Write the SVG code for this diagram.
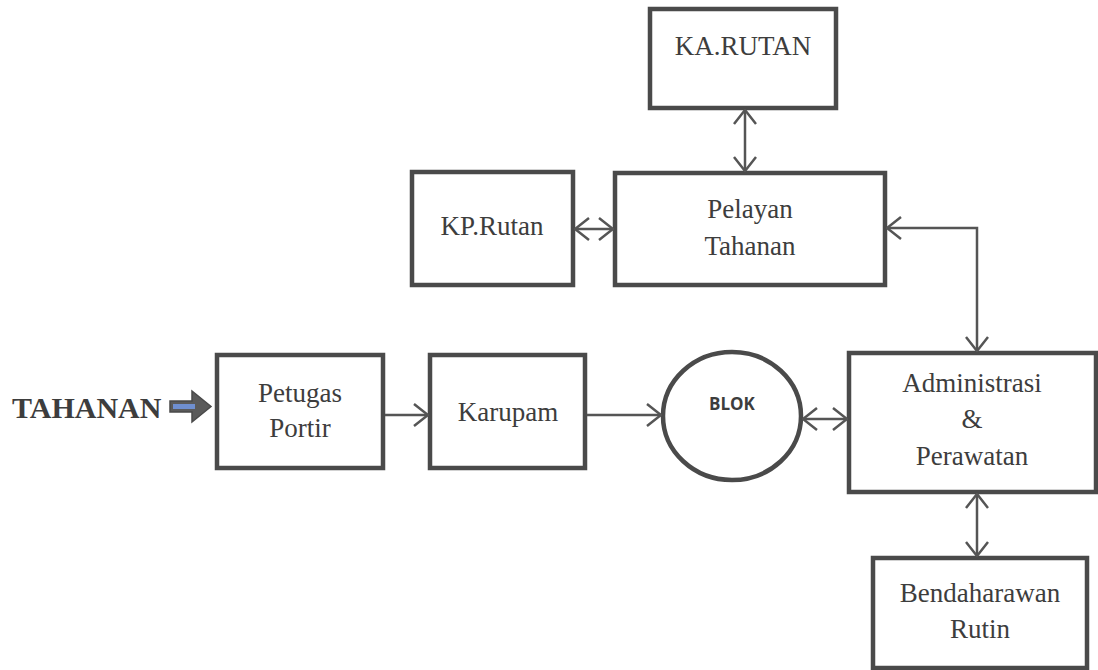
<svg xmlns="http://www.w3.org/2000/svg" width="1098" height="670" viewBox="0 0 1098 670">
<style>
.box{fill:#fff;stroke:#4a4a4a;stroke-width:4.5}
.t{font-family:'Liberation Serif','DejaVu Serif','Times New Roman',serif;font-size:27px;fill:#3d3d3d;text-anchor:middle}
.c{fill:none;stroke:#555;stroke-width:2.5}
</style>
<defs>
<marker id="ah" viewBox="0 0 16 24" refX="15" refY="12" markerWidth="16" markerHeight="24" markerUnits="userSpaceOnUse" orient="auto-start-reverse">
<path d="M1,1 L15,12 L1,23" fill="none" stroke="#555" stroke-width="2.5"/>
</marker>
</defs>
<rect width="1098" height="670" fill="#fff"/>
<g id="tahanan">
<text x="12" y="418" style="font-family:'Liberation Serif','DejaVu Serif','Times New Roman',serif;font-size:30px;font-weight:bold;fill:#3d3d3d">TAHANAN</text>
<path d="M170,401 L192,401 L192,391 L211,406.5 L192,422 L192,412 L170,412 Z" fill="#5a5a5a" stroke="#4a4a4a" stroke-width="1.5"/>
<rect x="173" y="404" width="22" height="5" fill="#6f8fd0"/>
</g>
<g id="ka-rutan">
<rect class="box" x="650" y="9" width="186" height="99"/>
<text class="t" x="743" y="55">KA.RUTAN</text>
</g>
<g id="kp-rutan">
<rect class="box" x="412" y="172" width="161" height="113"/>
<text class="t" x="492" y="235">KP.Rutan</text>
</g>
<g id="pelayan">
<rect class="box" x="615" y="173" width="270" height="112"/>
<text class="t" x="750" y="218">Pelayan</text>
<text class="t" x="750" y="255">Tahanan</text>
</g>
<g id="petugas">
<rect class="box" x="217" y="355" width="166" height="113"/>
<text class="t" x="300" y="402">Petugas</text>
<text class="t" x="300" y="437">Portir</text>
</g>
<g id="karupam">
<rect class="box" x="430" y="355" width="155" height="113"/>
<text class="t" x="508" y="421">Karupam</text>
</g>
<g id="blok">
<ellipse cx="732" cy="416" rx="69" ry="64" fill="#fff" stroke="#4a4a4a" stroke-width="4.5"/>
<text x="732" y="410" style="font-family:'Open Sans','DejaVu Sans',sans-serif;font-size:17px;font-weight:bold;fill:#3d3d3d;text-anchor:middle">BLOK</text>
</g>
<g id="admin">
<rect class="box" x="849" y="353" width="247" height="139"/>
<text class="t" x="972" y="392">Administrasi</text>
<text class="t" x="972" y="428">&amp;</text>
<text class="t" x="972" y="465">Perawatan</text>
</g>
<g id="bendahara">
<rect class="box" x="873" y="558" width="214" height="110"/>
<text class="t" x="980" y="602">Bendaharawan</text>
<text class="t" x="980" y="638">Rutin</text>
</g>
<g id="connectors">
<line class="c" x1="745" y1="110" x2="745" y2="171" marker-start="url(#ah)" marker-end="url(#ah)"/>
<line class="c" x1="575" y1="229" x2="613" y2="229" marker-start="url(#ah)" marker-end="url(#ah)"/>
<polyline class="c" points="887,228 977,228 977,351" marker-start="url(#ah)" marker-end="url(#ah)"/>
<line class="c" x1="385" y1="415" x2="428" y2="415" marker-end="url(#ah)"/>
<line class="c" x1="587" y1="415" x2="661" y2="415" marker-end="url(#ah)"/>
<line class="c" x1="803" y1="419" x2="847" y2="419" marker-start="url(#ah)" marker-end="url(#ah)"/>
<line class="c" x1="977" y1="494" x2="977" y2="556" marker-start="url(#ah)" marker-end="url(#ah)"/>
</g>
</svg>
